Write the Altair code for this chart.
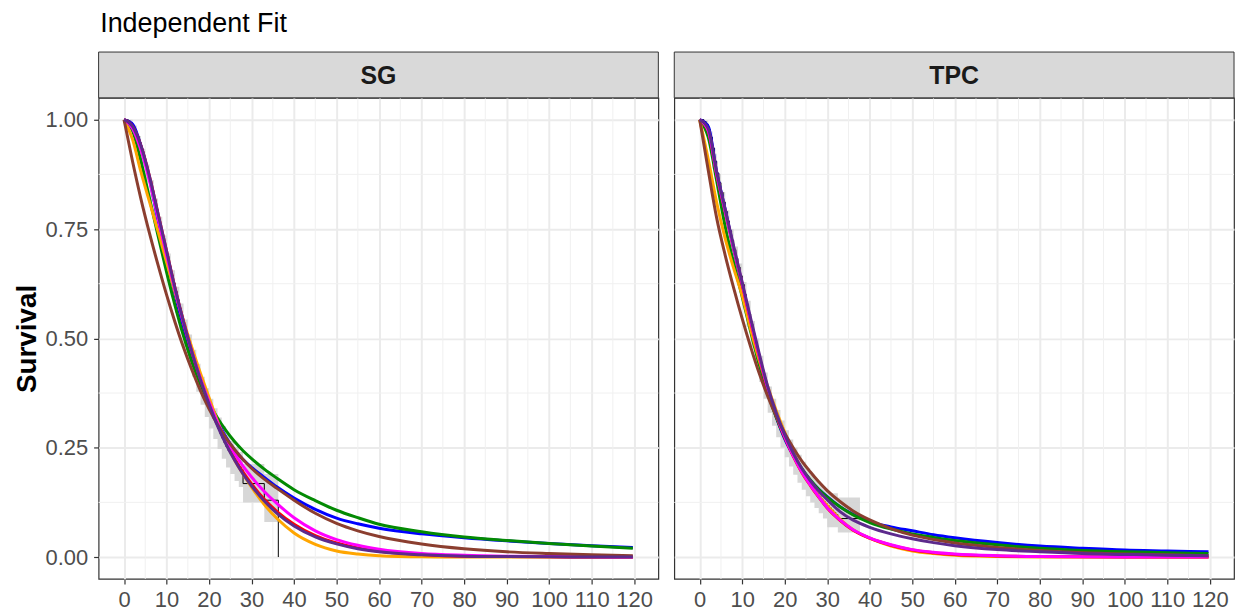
import altair as alt
import pandas as pd

FONT = "Liberation Sans"

TIMES = [0, 2, 4, 6, 8, 10, 12, 14, 16, 18, 20, 22, 24, 26, 28, 30, 33, 36, 40, 45, 50, 55, 60, 70, 80, 90, 100, 110, 119.7]

# ---- SG fitted curves ----
SG_BLUE = [1.0, 0.99, 0.94, 0.865, 0.77, 0.685, 0.6, 0.525, 0.46, 0.403, 0.353, 0.31, 0.274, 0.245, 0.223, 0.205, 0.182, 0.16, 0.135, 0.109, 0.089, 0.076, 0.066, 0.053, 0.044, 0.037, 0.031, 0.026, 0.022]
SG_GREEN = [1.0, 0.975, 0.905, 0.82, 0.735, 0.652, 0.575, 0.505, 0.445, 0.395, 0.353, 0.318, 0.289, 0.264, 0.243, 0.225, 0.201, 0.18, 0.154, 0.129, 0.107, 0.09, 0.075, 0.058, 0.046, 0.038, 0.031, 0.025, 0.02]
SG_BROWN = [1.0, 0.905, 0.818, 0.74, 0.668, 0.6, 0.537, 0.479, 0.427, 0.38, 0.339, 0.303, 0.272, 0.246, 0.223, 0.203, 0.178, 0.157, 0.13, 0.1, 0.077, 0.06, 0.047, 0.03, 0.019, 0.012, 0.008, 0.005, 0.003]
SG_ORANGE = [1.0, 0.955, 0.88, 0.812, 0.745, 0.675, 0.605, 0.54, 0.478, 0.42, 0.365, 0.31, 0.262, 0.222, 0.19, 0.16, 0.12, 0.088, 0.055, 0.029, 0.014, 0.007, 0.003, 0.0005, 0.0001, 0.0, 0.0, 0.0, 0.0]
SG_MAGENTA = [1.0, 0.98, 0.93, 0.86, 0.775, 0.69, 0.61, 0.535, 0.468, 0.408, 0.355, 0.308, 0.27, 0.237, 0.208, 0.183, 0.15, 0.122, 0.09, 0.06, 0.04, 0.027, 0.018, 0.008, 0.004, 0.002, 0.001, 0.0005, 0.0002]
SG_RED = [1.0, 0.985, 0.94, 0.87, 0.785, 0.7, 0.615, 0.538, 0.468, 0.406, 0.352, 0.303, 0.261, 0.225, 0.194, 0.167, 0.132, 0.104, 0.075, 0.049, 0.032, 0.021, 0.013, 0.006, 0.002, 0.001, 0.0004, 0.0002, 0.0001]
SG_PURPLE = [1.0, 0.985, 0.94, 0.87, 0.785, 0.7, 0.615, 0.538, 0.468, 0.405, 0.35, 0.3, 0.258, 0.222, 0.19, 0.163, 0.128, 0.1, 0.071, 0.046, 0.03, 0.019, 0.012, 0.005, 0.002, 0.001, 0.0004, 0.0002, 0.0001]

# ---- TPC fitted curves ----
TPC_BLUE = [1.0, 0.985, 0.88, 0.795, 0.705, 0.62, 0.535, 0.455, 0.38, 0.32, 0.27, 0.232, 0.2, 0.175, 0.155, 0.138, 0.115, 0.098, 0.081, 0.069, 0.06, 0.051, 0.044, 0.033, 0.025, 0.02, 0.016, 0.014, 0.012]
TPC_GREEN = [1.0, 0.96, 0.86, 0.755, 0.672, 0.595, 0.515, 0.44, 0.375, 0.32, 0.273, 0.235, 0.203, 0.177, 0.155, 0.137, 0.115, 0.097, 0.079, 0.064, 0.053, 0.045, 0.038, 0.028, 0.02, 0.015, 0.012, 0.01, 0.008]
TPC_BROWN = [1.0, 0.885, 0.775, 0.69, 0.615, 0.545, 0.48, 0.42, 0.368, 0.322, 0.283, 0.25, 0.22, 0.195, 0.172, 0.152, 0.127, 0.106, 0.085, 0.065, 0.05, 0.04, 0.032, 0.022, 0.015, 0.01, 0.007, 0.005, 0.003]
TPC_ORANGE = [1.0, 0.91, 0.81, 0.728, 0.66, 0.598, 0.52, 0.45, 0.39, 0.335, 0.285, 0.24, 0.2, 0.167, 0.14, 0.118, 0.087, 0.063, 0.043, 0.025, 0.014, 0.008, 0.004, 0.001, 0.0003, 0.0001, 0.0, 0.0, 0.0]
TPC_MAGENTA = [1.0, 0.975, 0.875, 0.79, 0.705, 0.625, 0.54, 0.46, 0.385, 0.325, 0.275, 0.232, 0.195, 0.165, 0.138, 0.113, 0.085, 0.063, 0.044, 0.028, 0.017, 0.011, 0.007, 0.003, 0.0012, 0.0005, 0.0002, 0.0001, 0.0]
TPC_RED = [1.0, 0.975, 0.875, 0.79, 0.705, 0.623, 0.538, 0.458, 0.384, 0.324, 0.274, 0.231, 0.194, 0.164, 0.137, 0.112, 0.084, 0.062, 0.043, 0.027, 0.016, 0.01, 0.006, 0.0025, 0.001, 0.0004, 0.0002, 0.0001, 0.0]
TPC_PURPLE = [1.0, 0.98, 0.88, 0.795, 0.71, 0.628, 0.545, 0.465, 0.39, 0.33, 0.28, 0.238, 0.203, 0.175, 0.151, 0.131, 0.104, 0.085, 0.068, 0.053, 0.042, 0.033, 0.026, 0.017, 0.012, 0.008, 0.006, 0.004, 0.003]

# ---- Kaplan-Meier estimates ----
SG_KM_T = [0, 0.5, 1, 1.5, 2, 2.5, 3, 3.5, 4, 4.5, 5, 5.5, 6, 6.5, 7, 7.5, 8, 8.5, 9, 9.5,
           10, 10.5, 11, 11.5, 12, 12.5, 13, 13.5, 14, 14.5, 15, 15.5, 16, 16.5, 17, 17.5, 18, 18.5, 19, 19.5,
           20, 20.5, 21, 21.5, 22, 22.5, 23, 23.5, 24, 24.5, 25, 25.5, 26, 26.5, 27, 27.5, 28, 33, 36.3]
SG_KM_S = [1.0, 1.0, 0.997, 0.993, 0.985, 0.975, 0.962, 0.948, 0.932, 0.915, 0.897, 0.878, 0.86, 0.838, 0.817, 0.795, 0.773, 0.752, 0.73, 0.708,
           0.688, 0.666, 0.645, 0.627, 0.607, 0.588, 0.568, 0.55, 0.532, 0.512, 0.496, 0.478, 0.46, 0.443, 0.425, 0.41, 0.395, 0.38, 0.366, 0.353,
           0.34, 0.328, 0.316, 0.305, 0.294, 0.283, 0.272, 0.262, 0.252, 0.243, 0.235, 0.228, 0.22, 0.213, 0.207, 0.2, 0.168, 0.13, 0.0]

TPC_KM_T = [0, 0.5, 1, 1.5, 2, 2.5, 3, 3.5, 4, 4.5, 5, 5.5, 6, 6.5, 7, 7.5, 8, 8.5, 9, 9.5,
            10, 10.5, 11, 11.5, 12, 12.5, 13, 13.5, 14, 14.5, 15, 15.5, 16, 16.5, 17, 17.5, 18, 18.5, 19, 19.5,
            20, 20.5, 21, 21.5, 22, 22.5, 23, 23.5, 24, 24.5, 25, 25.5, 26, 26.5, 27, 27.5, 28, 28.5, 29, 29.5,
            30, 30.5, 31, 31.5, 32, 32.5, 37.7]
TPC_KM_S = [1.0, 1.0, 0.996, 0.99, 0.978, 0.96, 0.935, 0.905, 0.878, 0.856, 0.834, 0.812, 0.79, 0.768, 0.746, 0.724, 0.703, 0.683, 0.663, 0.643,
            0.623, 0.6, 0.578, 0.556, 0.533, 0.51, 0.49, 0.47, 0.45, 0.43, 0.41, 0.392, 0.375, 0.36, 0.345, 0.331, 0.318, 0.305, 0.293, 0.281,
            0.27, 0.259, 0.248, 0.238, 0.228, 0.219, 0.21, 0.202, 0.194, 0.186, 0.178, 0.171, 0.164, 0.157, 0.151, 0.145, 0.139, 0.133, 0.127, 0.122,
            0.117, 0.112, 0.107, 0.102, 0.097, 0.088, 0.088]

# ---- confidence band of the KM estimate ----
SG_BAND_T = [0, 1, 2, 3, 4, 5, 6, 7, 8, 9, 10, 11, 12, 13, 14, 15, 16, 17, 18, 19, 20, 21, 22, 23, 24, 25, 26, 27, 28, 33, 36.3]
SG_BAND_LO = [0.995, 0.983, 0.963, 0.933, 0.897, 0.858, 0.814, 0.77, 0.726, 0.681, 0.638, 0.598, 0.558, 0.52, 0.481, 0.447, 0.412, 0.378, 0.348, 0.32, 0.294, 0.27, 0.247, 0.225, 0.205, 0.19, 0.174, 0.16, 0.125, 0.08, 0.08]
SG_BAND_HI = [1.0, 1.0, 0.987, 0.963, 0.933, 0.898, 0.862, 0.82, 0.778, 0.735, 0.694, 0.656, 0.618, 0.58, 0.543, 0.509, 0.474, 0.442, 0.412, 0.386, 0.362, 0.34, 0.319, 0.299, 0.281, 0.266, 0.252, 0.24, 0.213, 0.19, 0.19]

TPC_BAND_T = [0, 1, 2, 3, 4, 5, 6, 7, 8, 9, 10, 11, 12, 13, 14, 15, 16, 17, 18, 19, 20, 21, 22, 23, 24, 25, 26, 27, 28, 29, 30, 32.5, 37.7]
TPC_BAND_LO = [0.995, 0.982, 0.947, 0.888, 0.836, 0.789, 0.743, 0.698, 0.656, 0.615, 0.571, 0.526, 0.48, 0.44, 0.4, 0.362, 0.33, 0.3, 0.274, 0.25, 0.228, 0.207, 0.188, 0.17, 0.154, 0.139, 0.125, 0.112, 0.1, 0.088, 0.068, 0.056, 0.056]
TPC_BAND_HI = [1.0, 0.998, 0.973, 0.922, 0.876, 0.835, 0.793, 0.75, 0.71, 0.671, 0.629, 0.586, 0.54, 0.5, 0.46, 0.422, 0.39, 0.362, 0.336, 0.312, 0.29, 0.269, 0.25, 0.234, 0.218, 0.203, 0.189, 0.178, 0.166, 0.156, 0.146, 0.136, 0.136]

X_TICKS = [0, 10, 20, 30, 40, 50, 60, 70, 80, 90, 100, 110, 120]
Y_TICKS = [0.0, 0.25, 0.5, 0.75, 1.0]
X_MINOR = [5, 15, 25, 35, 45, 55, 65, 75, 85, 95, 105, 115]
Y_MINOR = [0.125, 0.375, 0.625, 0.875]

# drawing order and colours of fitted curves
CURVE_NAMES = ["blue", "green", "orange", "red", "magenta", "brown", "purple"]
CURVE_COLORS = {"blue": "#0000FF", "green": "#038A03", "orange": "#FFA500", "magenta": "#FF00FF",
                "red": "#FF0000", "brown": "#8B3E2F", "purple": "#5D2A8C"}

PANELS = {
    "SG": {"blue": SG_BLUE, "green": SG_GREEN, "orange": SG_ORANGE, "magenta": SG_MAGENTA,
           "red": SG_RED, "brown": SG_BROWN, "purple": SG_PURPLE,
           "km": (SG_KM_T, SG_KM_S), "band": (SG_BAND_T, SG_BAND_LO, SG_BAND_HI)},
    "TPC": {"blue": TPC_BLUE, "green": TPC_GREEN, "orange": TPC_ORANGE, "magenta": TPC_MAGENTA,
            "red": TPC_RED, "brown": TPC_BROWN, "purple": TPC_PURPLE,
            "km": (TPC_KM_T, TPC_KM_S), "band": (TPC_BAND_T, TPC_BAND_LO, TPC_BAND_HI)},
}

W, H, STRIP = 562, 483, 46
XDOM = [-5.98, 125.7]
YDOM = [-0.05, 1.05]


def panel(name, first):
    p = PANELS[name]
    xs = alt.Scale(domain=XDOM, nice=False, zero=False)
    ys = alt.Scale(domain=YDOM, nice=False, zero=False)
    xaxis = alt.Axis(values=X_TICKS, title=None, grid=True, domain=False, format="d")
    if first:
        yaxis = alt.Axis(values=Y_TICKS, title="Survival", grid=True, domain=False, format=".2f")
    else:
        yaxis = alt.Axis(values=Y_TICKS, title=None, grid=True, domain=False, labels=False, ticks=False)

    minor_x = alt.Chart(pd.DataFrame({"t": X_MINOR})).mark_rule(color="#F0F0F0", strokeWidth=1).encode(
        x=alt.X("t:Q", scale=xs, axis=xaxis))
    minor_y = alt.Chart(pd.DataFrame({"s": Y_MINOR})).mark_rule(color="#F0F0F0", strokeWidth=1).encode(
        y=alt.Y("s:Q", scale=ys, axis=yaxis))

    bt, blo, bhi = p["band"]
    band_df = pd.DataFrame({"t": bt, "lo": blo, "hi": bhi})
    band = alt.Chart(band_df).mark_area(interpolate="step-after", color="#D3D3D3", opacity=0.9).encode(
        x=alt.X("t:Q", scale=xs), y=alt.Y("lo:Q", scale=ys), y2="hi:Q")
    kt, ks = p["km"]
    km = alt.Chart(pd.DataFrame({"t": kt, "s": ks})).mark_line(
        interpolate="step-after", color="black", strokeWidth=1).encode(
        x=alt.X("t:Q", scale=xs), y=alt.Y("s:Q", scale=ys))

    layers = [minor_x, minor_y, band, km]
    for c in CURVE_NAMES:
        df = pd.DataFrame({"t": TIMES, "s": p[c]})
        layers.append(alt.Chart(df).mark_line(interpolate="monotone", color=CURVE_COLORS[c], strokeWidth=3).encode(
            x=alt.X("t:Q", scale=xs), y=alt.Y("s:Q", scale=ys)))

    sdf = pd.DataFrame({"panel": [name]})
    strip = alt.Chart(sdf).mark_rect(fill="#D9D9D9", stroke="#333333", strokeWidth=1).encode(
        x=alt.value(0), x2=alt.value(W), y=alt.value(-STRIP), y2=alt.value(0))
    label = alt.Chart(sdf).mark_text(font=FONT, fontSize=25, fontWeight="bold", color="#1A1A1A",
                                     baseline="middle", align="center").encode(
        x=alt.value(W / 2), y=alt.value(-STRIP / 2 + 1), text="panel:N")
    layers += [strip, label]
    return alt.layer(*layers).properties(width=W, height=H)


chart = alt.hconcat(panel("SG", True), panel("TPC", False), spacing=12).properties(
    title=alt.TitleParams("Independent Fit", anchor="start", font=FONT, fontSize=27, fontWeight="normal",
                          color="black", offset=13, dx=88),
    padding={"left": 12, "top": 8, "right": 4, "bottom": 4},
).configure_view(stroke="#333333", strokeWidth=1.2).configure_axis(
    labelFont=FONT, labelFontSize=22, labelColor="#4D4D4D", tickColor="#333333", tickSize=5,
    tickWidth=1.2, gridColor="#EBEBEB", gridWidth=2, labelPadding=6,
    titleFont=FONT, titleFontSize=28, titleFontWeight="bold", titleColor="black", titlePadding=4,
)

chart.save("out.html", embed_options={"renderer": "svg", "actions": False})
